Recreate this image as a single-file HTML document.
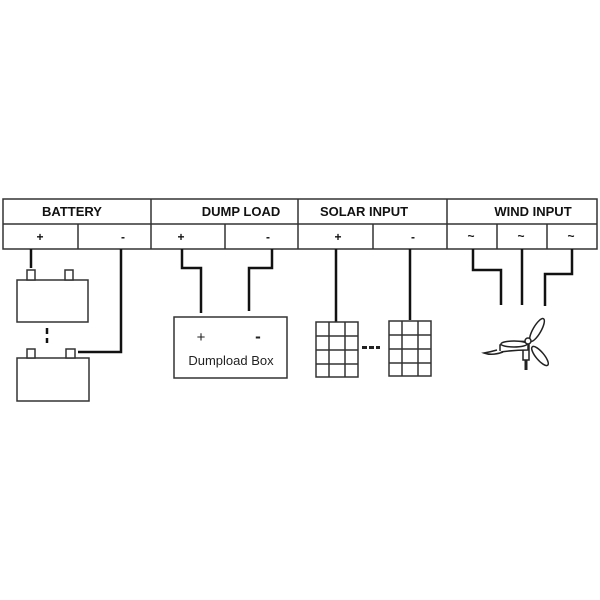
<!DOCTYPE html>
<html><head><style>body{margin:0;background:#fff}svg{display:block}</style></head><body>
<svg width="600" height="600" viewBox="0 0 600 600" xmlns="http://www.w3.org/2000/svg" font-family="Liberation Sans, sans-serif">
<g stroke="#333" stroke-width="1.5" fill="none">
<rect x="3" y="199" width="594" height="50"/>
<line x1="3" y1="224" x2="597" y2="224"/>
<line x1="151" y1="199" x2="151" y2="249"/>
<line x1="298" y1="199" x2="298" y2="249"/>
<line x1="447" y1="199" x2="447" y2="249"/>
<line x1="78" y1="224" x2="78" y2="249"/>
<line x1="225" y1="224" x2="225" y2="249"/>
<line x1="373" y1="224" x2="373" y2="249"/>
<line x1="497" y1="224" x2="497" y2="249"/>
<line x1="547" y1="224" x2="547" y2="249"/>
</g>
<g font-size="13" fill="#111" text-anchor="middle">
<g font-weight="bold">
<text x="72" y="216">BATTERY</text>
<text x="241" y="216">DUMP LOAD</text>
<text x="364" y="216">SOLAR INPUT</text>
<text x="533" y="216">WIND INPUT</text>
</g>
<g font-weight="bold" font-size="12">
<text x="40" y="241">+</text><text x="123" y="241">-</text>
<text x="181" y="241">+</text><text x="268" y="241">-</text>
<text x="338" y="241">+</text><text x="413" y="241">-</text>
<text x="471" y="240">~</text><text x="521" y="240">~</text><text x="571" y="240">~</text>
</g>
</g>
<g stroke="#111" stroke-width="2.5" fill="none">
<line x1="31" y1="249" x2="31" y2="268"/>
<polyline points="78,352 121,352 121,249"/>
<polyline points="182,249 182,268 201,268 201,313"/>
<polyline points="272,249 272,268 249,268 249,311"/>
<line x1="336" y1="249" x2="336" y2="322"/>
<line x1="410" y1="249" x2="410" y2="320"/>
<polyline points="473,249 473,270 501,270 501,305"/>
<line x1="522" y1="249" x2="522" y2="305"/>
<polyline points="572,249 572,274 545,274 545,306"/>
<line x1="47" y1="328" x2="47" y2="334"/><line x1="47" y1="338" x2="47" y2="343"/>
</g>
<g stroke="#333" stroke-width="1.5" fill="#fff">
<rect x="17" y="280" width="71" height="42"/>
<rect x="27" y="270" width="8" height="10"/><rect x="65" y="270" width="8" height="10"/>
<rect x="17" y="358" width="72" height="43"/>
<rect x="27" y="349" width="8" height="9"/><rect x="66" y="349" width="9" height="9"/>
<rect x="174" y="317" width="113" height="61"/>
<rect x="316" y="322" width="42" height="55"/>
<path d="M329 322V377M345 322V377M316 336H358M316 350H358M316 364H358"/>
<rect x="389" y="321" width="42" height="55"/>
<path d="M402 321V376M418 321V376M389 335H431M389 349H431M389 363H431"/>
</g>
<g fill="#222"><rect x="362" y="346" width="5" height="3"/><rect x="369" y="346" width="5" height="3"/><rect x="376" y="346" width="4" height="3"/></g>
<text x="201" y="342" font-size="15" text-anchor="middle" fill="#222">+</text>
<text x="258" y="342" font-size="17" font-weight="bold" text-anchor="middle" fill="#222">-</text>
<text x="231" y="365" font-size="13" text-anchor="middle" fill="#222">Dumpload Box</text>
<g stroke="#222" stroke-width="1.5" fill="#fff">
<line x1="526" y1="345" x2="526" y2="370" stroke-width="3"/>
<rect x="523" y="345" width="6" height="15"/>
<path d="M500 345 Q520 340 528 342 L528 350 Q515 350 500 352 Z"/>
<path d="M497 350 Q490 352 484 353 Q492 356 503 352"/>
<ellipse cx="537" cy="330" rx="4" ry="13" transform="rotate(30 537 330)"/>
<ellipse cx="540" cy="356" rx="4" ry="12" transform="rotate(-40 540 356)"/>
<ellipse cx="514" cy="344" rx="13" ry="3"/>
<circle cx="528" cy="341" r="3"/>
</g>
</svg>
</body></html>
